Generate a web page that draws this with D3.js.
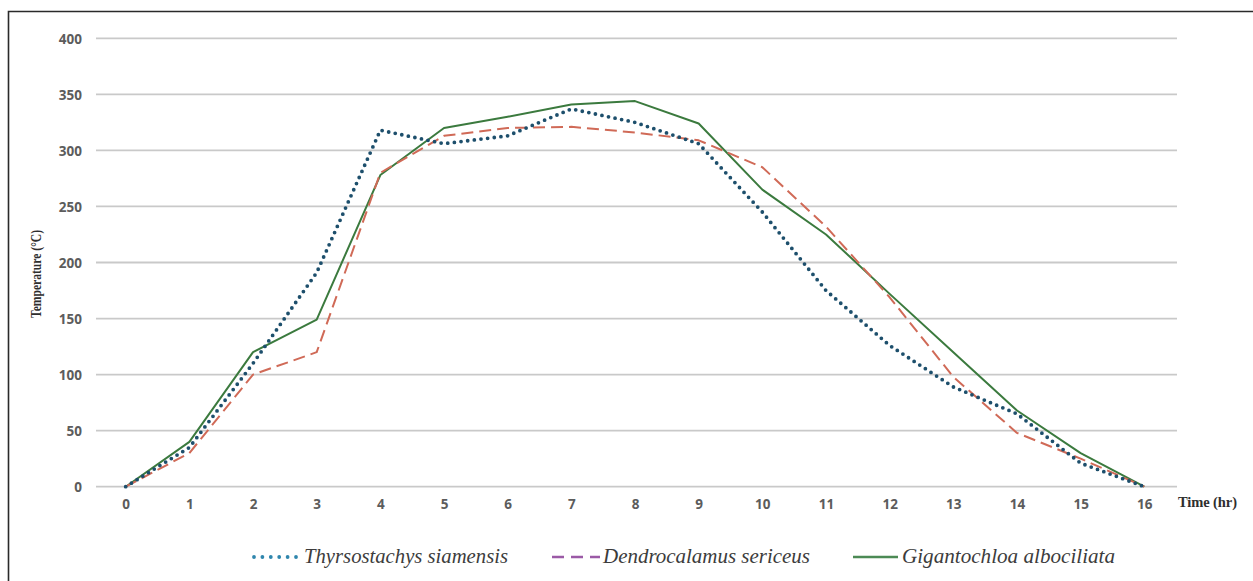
<!DOCTYPE html>
<html>
<head>
<meta charset="utf-8">
<script src="https://cdn.jsdelivr.net/npm/d3@7"></script>
<style>
  html, body { margin: 0; padding: 0; background: #fff; }
  svg { display: block; }
</style>
</head>
<body>
<div id="chart"></div>
<script>
// ---- Data ----
const hours = [0, 1, 2, 3, 4, 5, 6, 7, 8, 9, 10, 11, 12, 13, 14, 15, 16];
const thyrsostachys = [0, 35, 110, 191, 318, 306, 313, 337, 325, 306, 245, 175, 126, 89, 65, 21, 0];
const dendrocalamus = [0, 30, 100, 120, 280, 313, 320, 321, 316, 309, 285, 232, 169, 98, 48, 25, 0];
const gigantochloa  = [0, 40, 120, 149, 278, 320, 330, 341, 344, 324, 265, 225, 172, 120, 68, 30, 0];
const yTicks = [0, 50, 100, 150, 200, 250, 300, 350, 400];
const seriesNames = ["Thyrsostachys siamensis", "Dendrocalamus sericeus", "Gigantochloa albociliata"];
const yTitle = "Temperature (°C)";
const xTitle = "Time (hr)";

const W = 1253, H = 581;
const svg = d3.select("#chart").append("svg").attr("width", W).attr("height", H);

// frame
svg.append("path")
  .attr("d", `M8.5,${H + 2} L8.5,11.5 L${W + 2},11.5`)
  .attr("fill", "none").attr("stroke", "#2a2a2a").attr("stroke-width", 1.6);

const x = d3.scalePoint().domain(hours).range([125.7, 1144.3]);
const y = d3.scaleLinear().domain([0, 400]).range([486.7, 38.3]);
const gridX0 = 96, gridX1 = 1177;

// gridlines
svg.append("g").selectAll("line").data(yTicks).join("line")
  .attr("x1", gridX0).attr("x2", gridX1)
  .attr("y1", d => y(d)).attr("y2", d => y(d))
  .attr("stroke", "#c9c9c9").attr("stroke-width", 1.8);

// y axis labels
const yAxis = d3.axisLeft(y).tickValues(yTicks).tickSize(0).tickPadding(0);
const gy = svg.append("g").attr("transform", "translate(82,0)").call(yAxis);
gy.select(".domain").remove();
gy.selectAll("text")
  .attr("font-family", "'Open Sans', sans-serif").attr("font-weight", 700)
  .attr("font-size", 13.5).attr("fill", "#5c5c5c").attr("dy", "0.35em");

// x axis labels
const xAxis = d3.axisBottom(x).tickSize(0).tickPadding(0);
const gx = svg.append("g").attr("transform", "translate(0,504)").call(xAxis);
gx.select(".domain").remove();
gx.selectAll("text")
  .attr("font-family", "'Open Sans', sans-serif").attr("font-weight", 700)
  .attr("font-size", 13.5).attr("fill", "#5c5c5c").attr("dy", "0.35em");

// axis titles
svg.append("text").text(xTitle)
  .attr("x", 1178).attr("y", 507)
  .attr("font-family", "'Liberation Serif', serif").attr("font-weight", "bold")
  .attr("font-size", 14.5).attr("fill", "#2e2e2e").attr("textLength", 59);

svg.append("text").text(yTitle)
  .attr("transform", "translate(41,274) rotate(-90)")
  .attr("text-anchor", "middle")
  .attr("font-family", "'Liberation Serif', serif").attr("font-weight", "bold")
  .attr("font-size", 14).attr("fill", "#2e2e2e")
  .attr("textLength", 88).attr("lengthAdjust", "spacingAndGlyphs");

// lines
const line = d3.line().x((d, i) => x(hours[i])).y(d => y(d));
const styles = [
  { data: thyrsostachys, color: "#1d4f6c", width: 3.8, dash: "0 6.7", cap: "round" },
  { data: dendrocalamus, color: "#d06a57", width: 2, dash: "12 6", cap: "butt" },
  { data: gigantochloa, color: "#3b7a3e", width: 2, dash: null, cap: "butt" }
];
// draw order: green, red, blue (blue on top)
[2, 1, 0].forEach(i => {
  const s = styles[i];
  svg.append("path").datum(s.data)
    .attr("d", line)
    .attr("fill", "none")
    .attr("stroke", s.color)
    .attr("stroke-width", s.width)
    .attr("stroke-linecap", s.cap)
    .attr("stroke-linejoin", "round")
    .attr("stroke-dasharray", s.dash);
});

// legend
const legend = [
  { name: seriesNames[0], x1: 254, x2: 297, tx: 304, tw: 204, color: "#2f86ad", width: 3.8, dash: "0 8.4", cap: "round" },
  { name: seriesNames[1], x1: 552, x2: 600, tx: 603, tw: 207, color: "#9b5aa6", width: 2.4, dash: "12 7", cap: "butt" },
  { name: seriesNames[2], x1: 853, x2: 898, tx: 902, tw: 213, color: "#4c8a55", width: 2.4, dash: null, cap: "butt" }
];
const lg = svg.append("g");
legend.forEach(l => {
  lg.append("line")
    .attr("x1", l.x1).attr("x2", l.x2).attr("y1", 557).attr("y2", 557)
    .attr("stroke", l.color).attr("stroke-width", l.width)
    .attr("stroke-linecap", l.cap).attr("stroke-dasharray", l.dash);
  lg.append("text").text(l.name)
    .attr("x", l.tx).attr("y", 563)
    .attr("font-family", "'Liberation Serif', serif").attr("font-style", "italic")
    .attr("font-size", 20.5).attr("fill", "#3c3c3c")
    .attr("textLength", l.tw).attr("lengthAdjust", "spacingAndGlyphs");
});
</script>
</body>
</html>
